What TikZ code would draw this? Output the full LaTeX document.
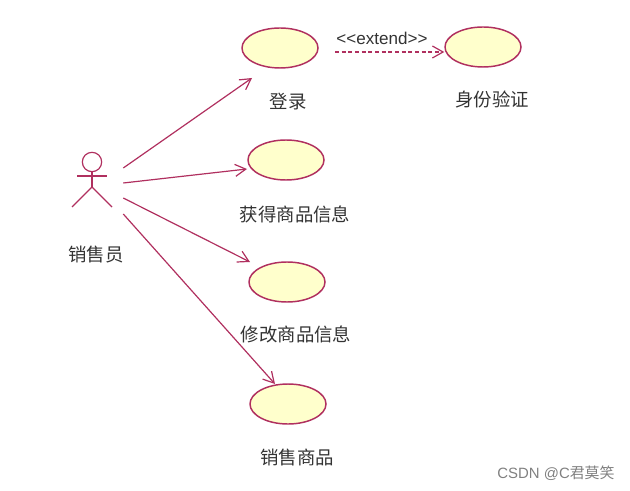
\documentclass[tikz,border=0pt]{standalone}
\usepackage{fontspec}
\setmainfont{Liberation Sans}
\newfontfamily\cjk{Noto Sans CJK SC}
\usetikzlibrary{shapes.geometric,arrows.meta,calc}
\definecolor{umlline}{HTML}{B0305F}
\definecolor{umlfill}{HTML}{FFFFCC}
\definecolor{umltext}{HTML}{333333}

\begin{document}
\begin{tikzpicture}[x=0.75pt, y=-0.75pt, font=\cjk\fontsize{13.8}{15}\selectfont,
  >={Straight Barb[length=8pt, width=9pt, line width=0.9pt]},
  usecase/.style={draw=umlline, fill=umlfill, ellipse, line width=1.1pt,
                  minimum width=57pt, minimum height=30pt, inner sep=0pt},
  lab/.style={text=umltext, inner sep=0pt},
  rel/.style={draw=umlline, line width=0.9pt},
  limb/.style={draw=umlline, line width=0.9pt}]
  \useasboundingbox (0,0) rectangle (630,491);
  \node[minimum width=46.5pt, minimum height=60pt, inner sep=0pt] (seller) at (92,185) {};
  \node[circle, draw=umlline, line width=0.9pt, minimum size=14.5pt, inner sep=0pt] (head) at (92,162) {};
  \coordinate (hip) at (92,187);
  \draw[limb] (head.south) -- (hip);
  \draw[limb] ($(head)+(-15,14)$) -- ($(head)+(15,14)$);
  \draw[limb] ($(hip)+(-20,20)$) -- (hip) -- ($(hip)+(20,20)$);
  \node[lab] (sellerlab) at (96,255) {销售员};

  \node[usecase] (login) at (280,48) {};
  \node[usecase] (auth) at (483,47) {};
  \node[usecase] (info) at (286,160) {};
  \node[usecase] (edit) at (287,282) {};
  \node[usecase] (sale) at (288,404) {};

  \node[lab] (loginlab) at (288,102) {登录};
  \node[lab] (authlab) at (492,100) {身份验证};
  \node[lab] (infolab) at (295,214) {获得商品信息};
  \node[lab] (editlab) at (296,334) {修改商品信息};
  \node[lab] (salelab) at (297,457) {销售商品};
  \node[lab, font=\fontsize{12.8}{14}\selectfont] (extlab) at (382,38) {<{}<extend>{}>};
  \node[lab, text=gray, font=\fontsize{11.2}{14}\selectfont] (mark) at (556,473) {CSDN @C{\cjk 君莫笑}};

  \coordinate (extstart) at ($(login)+(55,4)$);
  \draw[rel, ->] ([yshift=12.75pt]seller.east) -- ([shift={(-28,30)}]login.center);
  \draw[rel, ->] ([yshift=1.5pt]seller.east) -- ([shift={(-39,9)}]info.center);
  \draw[rel, ->] ([yshift=-9.75pt]seller.east) -- ([shift={(-37,-20)}]edit.center);
  \draw[rel, ->] ([yshift=-21.75pt]seller.east) -- ([shift={(-13,-20)}]sale.center);
  \draw[rel, ->, dash pattern=on 3pt off 2pt] (extstart) -- (extstart -| auth.west);
\end{tikzpicture}
\end{document}
